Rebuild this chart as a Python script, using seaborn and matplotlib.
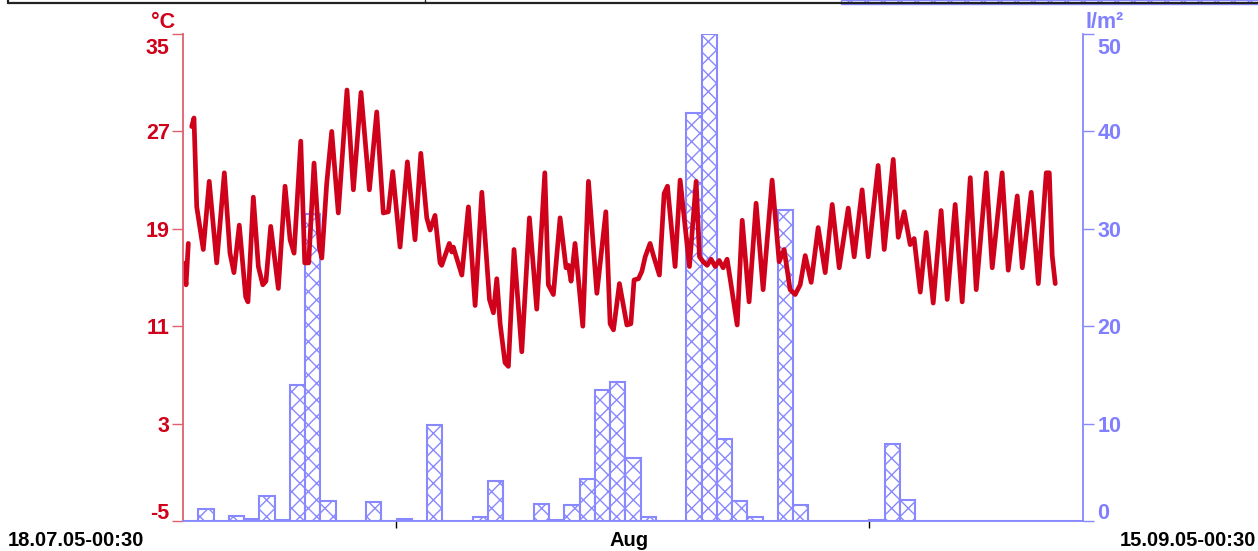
import numpy as np
import pandas as pd
import matplotlib
matplotlib.use("Agg")
import matplotlib.pyplot as plt
import matplotlib.transforms as mtransforms
from matplotlib.patches import Rectangle
from matplotlib.lines import Line2D
import seaborn as sns

# Daily precipitation (l/m²), one value per day starting 18.07.05
rain_day = np.arange(59)
rain_mm = [0, 1.2, 0, 0.55, 0.25, 2.6, 0.1, 14.0, 31.5, 2.1,
           0, 0, 2.0, 0, 0.2, 0, 9.9, 0, 0, 0.4,
           4.1, 0, 0, 1.7, 0.1, 1.6, 4.3, 13.4, 14.3, 6.5,
           0.4, 0, 0, 41.9, 50.0, 8.4, 2.05, 0.4, 0, 31.9,
           1.6, 0, 0, 0, 0, 0.1, 7.9, 2.15, 0, 0,
           0, 0, 0, 0, 0, 0, 0, 0, 0]

# Air temperature (°C), days since 18.07.05-00:30
temp_day = [0.02, 0.20, 0.35,
            0.57, 0.72, 0.90, 1.33, 1.72, 2.21, 2.71, 3.08, 3.34, 3.69,
            4.11, 4.26, 4.61, 4.94, 5.23, 5.44, 5.75, 6.25, 6.69, 7.02,
            7.28, 7.72, 7.98, 8.24, 8.59, 8.94, 9.10, 9.42, 9.75, 10.18,
            10.75, 11.17, 11.67, 12.22, 12.70, 13.13, 13.46, 13.75, 14.23,
            14.71, 15.21, 15.59, 15.98, 16.20, 16.52, 16.85, 16.96, 17.46,
            17.62, 17.72, 18.28, 18.71, 19.15, 19.59, 20.09, 20.35, 20.57,
            20.79, 21.11, 21.33, 21.70, 22.21, 22.71, 23.19, 23.72, 23.95,
            24.28, 24.72, 25.11, 25.27, 25.44, 25.70, 26.21, 26.58, 27.13,
            27.72, 28.00, 28.22, 28.61, 28.87, 29.10, 29.36, 29.57, 29.86,
            30.08, 30.30, 30.62, 30.84, 31.23, 31.54, 31.76, 32.26, 32.59,
            33.20, 33.64, 33.86, 34.10, 34.36, 34.62, 34.89, 35.15, 35.41,
            35.67, 35.93, 36.33, 36.66, 37.11, 37.57, 38.03, 38.62, 39.08,
            39.41, 39.80, 40.13, 40.46, 40.79, 41.18, 41.64, 42.10, 42.56,
            43.02, 43.61, 44.00, 44.52, 44.92, 45.57, 45.97, 46.56, 46.89,
            47.28, 47.67, 47.93, 48.33, 48.72, 49.18, 49.70, 50.10, 50.62,
            51.08, 51.61, 52.00, 52.66, 53.05, 53.70, 54.10, 54.69, 55.02,
            55.61, 56.07, 56.59, 56.79, 56.98, 57.18]
temp_c = [16.2, 14.4, 17.8,
          27.4, 28.1, 20.8, 17.3, 22.9, 16.2, 23.6, 17.0, 15.4, 19.3,
          13.4, 13.0, 21.6, 15.9, 14.4, 14.7, 19.2, 14.1, 22.5, 18.1,
          17.0, 26.2, 16.2, 16.2, 24.4, 17.5, 16.6, 22.7, 27.0, 20.3,
          30.4, 22.2, 30.2, 22.2, 28.6, 20.3, 20.4, 23.7, 17.5,
          24.5, 18.1, 25.2, 19.9, 18.9, 20.1, 16.2, 16.0, 17.8,
          17.1, 17.5, 15.2, 20.8, 12.7, 22.0, 13.2, 12.1, 14.9,
          11.2, 8.0, 7.7, 17.3, 8.9, 19.9, 12.4, 23.6, 14.4,
          13.6, 19.9, 15.8, 16.0, 14.7, 17.8, 11.0, 22.9, 13.7,
          20.4, 11.2, 10.7, 14.5, 12.7, 11.1, 11.2, 14.8, 14.9,
          15.5, 16.7, 17.8, 16.8, 15.2, 21.9, 22.5, 15.9, 23.0,
          15.9, 22.9, 16.7, 16.3, 16.0, 16.5, 15.9, 16.4, 15.8,
          16.5, 14.4, 11.1, 19.7, 13.0, 21.1, 14.0, 23.0, 16.3,
          17.3, 14.0, 13.6, 14.4, 16.8, 14.6, 19.1, 15.4, 21.0,
          15.8, 20.7, 16.7, 22.2, 16.7, 24.2, 17.3, 24.7, 18.3,
          20.4, 17.7, 18.2, 13.8, 18.7, 12.9, 20.5, 13.2, 21.0,
          13.0, 23.2, 14.0, 23.6, 15.8, 23.6, 15.6, 21.7, 15.8,
          22.0, 14.5, 23.6, 23.6, 16.8, 14.5]
# a short gap in the record after the first readings
temp_segment = [0] * 3 + [1] * (len(temp_day) - 3)

temp_ticks = [-5, 3, 11, 19, 27, 35]
rain_ticks = [0, 10, 20, 30, 40, 50]
month_ticks = [13.979, 44.979]  # 01.08 and 01.09, 00:00
start_label = "18.07.05-00:30"
end_label = "15.09.05-00:30"
month_label = "Aug"

RED = "#d0021b"
RED_AXIS = "#e0606f"
BLUE = "#8888ff"
BLUE_TXT = "#7f7fff"

sns.set_theme(style="white")
plt.rcParams["font.family"] = ["Liberation Sans", "DejaVu Sans"]
plt.rcParams["hatch.linewidth"] = 1.0

W, H = 1258, 551
fig = plt.figure(figsize=(W / 100, H / 100), dpi=100)
ax = fig.add_axes([183 / W, 30 / H, 900 / W, 487 / H])
axr = ax.twinx()
ax.set_zorder(2)
ax.patch.set_visible(False)

# precipitation bars on the right-hand scale
axr.bar(rain_day, rain_mm, width=1.0, align="edge", facecolor="white",
        edgecolor=BLUE, hatch="xx", linewidth=1.5)

# temperature curve on the left-hand scale
df = pd.DataFrame({"day": temp_day, "temp": temp_c, "segment": temp_segment})
sns.lineplot(data=df, x="day", y="temp", units="segment", estimator=None,
             color=RED, linewidth=3.4, ax=ax, legend=False,
             solid_joinstyle="round", solid_capstyle="round")

ax.set_xlim(0, 59)
ax.set_ylim(-5, 35)
axr.set_ylim(0, 50)
ax.set_xlabel("")
ax.set_ylabel("")

for s in ["top", "right"]:
    ax.spines[s].set_visible(False)
ax.spines["left"].set_color(RED_AXIS)
ax.spines["left"].set_linewidth(1.3)
ax.spines["bottom"].set_color(BLUE)
ax.spines["bottom"].set_linewidth(1.3)
for s in ["top", "left", "bottom"]:
    axr.spines[s].set_visible(False)
axr.spines["right"].set_color(BLUE)
axr.spines["right"].set_linewidth(1.3)

TICK_FS = 15.5
ax.set_yticks(temp_ticks, [str(v) for v in temp_ticks])
ax.tick_params(axis="y", left=True, length=8, width=1.0, color=RED_AXIS,
               pad=1.5, labelsize=TICK_FS, labelcolor=RED)
axr.set_yticks(rain_ticks, [str(v) for v in rain_ticks])
axr.tick_params(axis="y", right=True, length=8, width=1.0, color=BLUE,
                pad=2.5, labelsize=TICK_FS, labelcolor=BLUE_TXT)
ax.set_xticks(month_ticks, ["", ""])
ax.tick_params(axis="x", bottom=True, direction="out", length=5, width=1.0,
               color="black", labelbottom=False)
axr.tick_params(axis="x", bottom=False, labelbottom=False)

for lbl in ax.get_yticklabels() + axr.get_yticklabels():
    lbl.set_fontweight("bold")

# keep the end labels inside the scale range
def shift(tick, dy_px):
    off = mtransforms.ScaledTranslation(0, dy_px / 100, fig.dpi_scale_trans)
    tick.label1.set_transform(tick.label1.get_transform() + off)
    tick.label2.set_transform(tick.label2.get_transform() + off)

lt = ax.yaxis.get_major_ticks()
rt = axr.yaxis.get_major_ticks()
shift(lt[0], 10)
shift(lt[-1], -12)
shift(rt[0], 10)
shift(rt[-1], -12)

# unit captions
fig.text(163 / W, 1 - 22 / H, "°C", color=RED, fontsize=TICK_FS,
         fontweight="bold", ha="center", va="center")
fig.text(1105 / W, 1 - 22 / H, "l/m²", color=BLUE_TXT, fontsize=TICK_FS,
         fontweight="bold", ha="center", va="center")

# time axis captions
CAP_Y = 1 - 541 / H
fig.text(8 / W, CAP_Y, start_label, fontsize=14.5, fontweight="bold",
         color="black", ha="left", va="center")
fig.text(1256 / W, CAP_Y, end_label, fontsize=14.5, fontweight="bold",
         color="black", ha="right", va="center")
fig.text(629 / W, CAP_Y, month_label, fontsize=14.5, fontweight="bold",
         color="black", ha="center", va="center")

# lower edge of the panel above
fig.add_artist(Line2D([8 / W, 1], [1 - 2.5 / H, 1 - 2.5 / H],
                      transform=fig.transFigure, color="#222222", lw=1.6))
fig.add_artist(Line2D([8 / W, 8 / W], [1, 1 - 2.5 / H],
                      transform=fig.transFigure, color="#222222", lw=1.6))
fig.add_artist(Line2D([425 / W, 425 / W], [1, 1 - 2.5 / H],
                      transform=fig.transFigure, color="#222222", lw=1.0))
fig.add_artist(Rectangle((841 / W, 1 - 4 / H), (W - 841) / W, 4 / H,
                         transform=fig.transFigure, facecolor="white",
                         edgecolor=BLUE, hatch="xx", linewidth=1.0))

fig.savefig("out.png", dpi=100, facecolor="white")
